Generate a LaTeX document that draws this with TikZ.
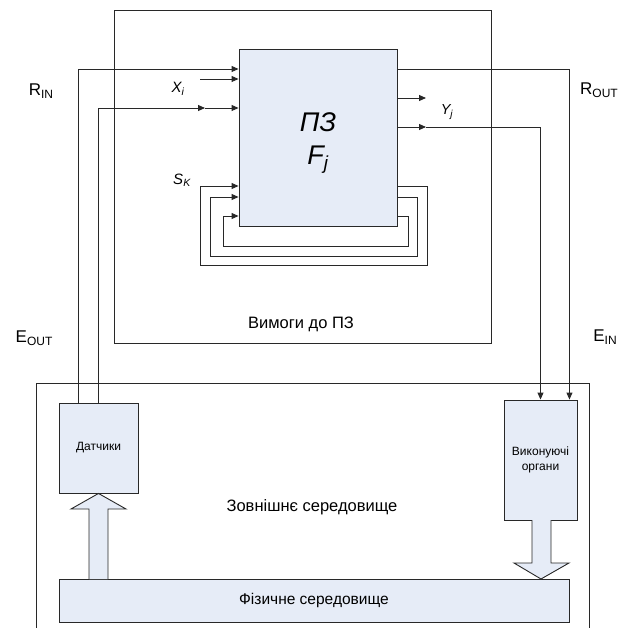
\documentclass[tikz,border=0pt]{standalone}
\usepackage{fontspec}
\setmainfont{Liberation Sans}
\usetikzlibrary{arrows.meta}
\definecolor{boxBlue}{RGB}{230,236,247}
\definecolor{lineGrey}{RGB}{40,40,40}
\newcommand\lowtext[1]{\raisebox{-0.3ex}{\fontsize{12}{12}\selectfont #1}}

\begin{document}
\begin{tikzpicture}[x=1pt,y=-1pt,font=\fontsize{16.5}{18}\selectfont,
 blk/.style={draw=lineGrey,line width=.9pt,fill=boxBlue,inner sep=0pt,align=center},
 frame/.style={draw=lineGrey,line width=.9pt,inner sep=0pt},
 wire/.style={lineGrey,line width=.9pt},
 arr/.style={wire,-{Triangle[length=7pt,width=6pt]}},
 sig/.style={font=\fontsize{17}{19}\selectfont,inner sep=0pt}]
\path[use as bounding box] (0,0) rectangle (627,628);
% requirements frame and environment
\node[frame,minimum width=377pt,minimum height=333pt] (req) at (302.5,176.5) {};
\node (reqtext) at (301,324) {Вимоги до ПЗ};
\draw[wire] (36,628) -- (36,383) -- (589,383) -- (589,628);
\node (envtext) at (312,507) {Зовнішнє середовище};
% blocks
\node[blk,minimum width=158pt,minimum height=177pt] (pz) at (318,137.5) {};
\node[font=\fontsize{27}{33}\selectfont\itshape,align=center] (pztext) at (318,143) {ПЗ\\F\textsubscript{j}};
\node[blk,minimum width=79pt,minimum height=90pt,font=\fontsize{12}{14}\selectfont] (sens) at (98.5,448) {Датчики};
\node[blk,minimum width=73pt,minimum height=120pt,font=\fontsize{12}{14.5}\selectfont] (act) at (540.5,460) {Виконуючі\\органи};
\node[blk,minimum width=510pt,minimum height=43pt,font=\fontsize{15.5}{17}\selectfont] (phys) at (314,600.5) {Фізичне середовище};
% inputs
\draw[arr] ([xshift=-20.5pt]sens.north) |- (pz.west |- 0,69);
\draw[arr] (200,79) -- (pz.west |- 0,79);
\coordinate (rin) at (205,108);
\draw[arr] (sens.north) |- (rin);
\draw[arr] (rin) -- (pz.west |- 0,108);
% feedback
\foreach \oy/\rx/\by/\lx in {186/427/265/200, 197/417/256/210, 216/408/246/223}
  \draw[arr] (pz.east |- 0,\oy) -| (\rx,\by) -| (\lx,\oy) -- (pz.west |- 0,\oy);
% outputs
\draw[arr] (pz.east |- 0,69) -| ([xshift=-8pt]act.north east);
\draw[arr] (pz.east |- 0,98) -- (426,98);
\coordinate (yout) at (426,127);
\draw[arr] (pz.east |- 0,127) -- (yout);
\draw[arr] (yout) -| (act.north);
% wide arrows
\draw[wire,fill=boxBlue] (89,579) -- (89,509) -- (71,509) -- (sens.south) -- (126,509) -- (108,509) -- (108,579);
\draw[wire,fill=boxBlue] (532,520) -- (532,563) -- (514,563) -- (541,579) -- (569,563) -- (551,563) -- (551,520);
% labels
\node[sig] (rinl) at (41,91) {R\lowtext{IN}};
\node[sig] (routl) at (599,90) {R\lowtext{OUT}};
\node[sig] (eoutl) at (34,338) {E\lowtext{OUT}};
\node[sig] (einl) at (605,337) {E\lowtext{IN}};
\node[sig,font=\fontsize{15}{17}\selectfont\itshape] (xil) at (178,89) {X\textsubscript{i}};
\node[sig,font=\fontsize{15}{17}\selectfont\itshape] (skl) at (182,180) {S\textsubscript{K}};
\node[sig,font=\fontsize{14.5}{16}\selectfont\itshape] (yjl) at (447,112) {Y\textsubscript{j}};
\end{tikzpicture}
\end{document}
